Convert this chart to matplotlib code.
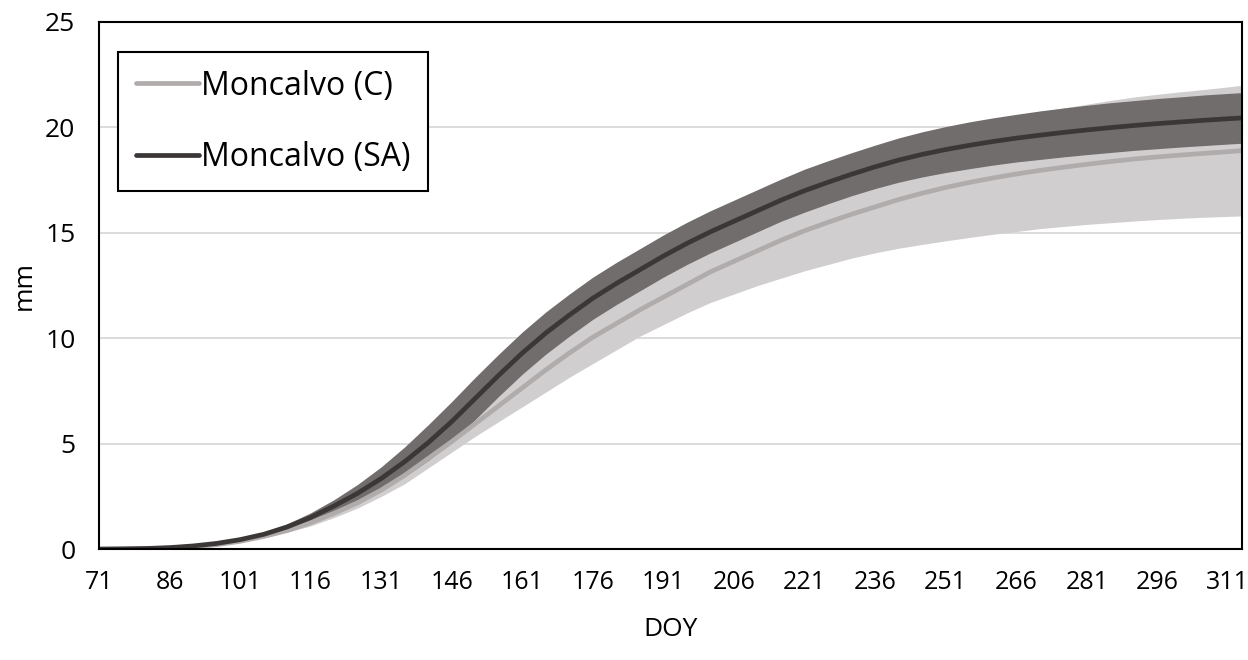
import matplotlib
matplotlib.use("Agg")
import matplotlib.pyplot as plt

# day of year (sampled every 5 days)
doy = [71, 76, 81, 86, 91, 96, 101, 106, 111, 116, 121, 126, 131, 136, 141, 146,
       151, 156, 161, 166, 171, 176, 181, 186, 191, 196, 201, 206, 211, 216, 221,
       226, 231, 236, 241, 246, 251, 256, 261, 266, 271, 276, 281, 286, 291, 296,
       301, 306, 311, 314]

# Moncalvo (C): mean and band limits
c_mean = [0, 0.01, 0.02, 0.05, 0.11, 0.21, 0.37, 0.6, 0.88, 1.25, 1.7, 2.2, 2.8, 3.5,
          4.3, 5.1, 5.95, 6.8, 7.65, 8.5, 9.3, 10.05, 10.7, 11.35, 11.95, 12.55, 13.15,
          13.65, 14.15, 14.65, 15.1, 15.5, 15.88, 16.23, 16.58, 16.88, 17.15, 17.39, 17.6,
          17.79, 17.96, 18.11, 18.25, 18.38, 18.5, 18.6, 18.69, 18.77, 18.85, 18.9]
c_low = [0, 0.01, 0.02, 0.05, 0.11, 0.2, 0.34, 0.55, 0.8, 1.1, 1.5, 1.95, 2.5, 3.1,
         3.85, 4.6, 5.35, 6.05, 6.75, 7.45, 8.15, 8.8, 9.45, 10.1, 10.65, 11.2, 11.7,
         12.1, 12.5, 12.85, 13.2, 13.5, 13.8, 14.05, 14.27, 14.45, 14.62, 14.78, 14.93,
         15.06, 15.2, 15.3, 15.4, 15.48, 15.56, 15.63, 15.69, 15.74, 15.78, 15.8]
c_high = [0, 0.01, 0.02, 0.05, 0.11, 0.22, 0.4, 0.65, 0.97, 1.4, 1.9, 2.45, 3.1, 3.9,
          4.75, 5.6, 6.55, 7.55, 8.55, 9.55, 10.45, 11.3, 11.95, 12.6, 13.25, 13.9, 14.6,
          15.2, 15.8, 16.45, 17.0, 17.5, 17.96, 18.41, 18.89, 19.31, 19.68, 20.0, 20.27,
          20.52, 20.72, 20.92, 21.1, 21.28, 21.44, 21.57, 21.69, 21.8, 21.92, 22.0]

# Moncalvo (SA): mean and band limits
sa_mean = [0, 0.01, 0.03, 0.07, 0.15, 0.27, 0.45, 0.7, 1.05, 1.5, 2.05, 2.65, 3.35, 4.15,
           5.05, 6.05, 7.15, 8.25, 9.3, 10.25, 11.1, 11.9, 12.6, 13.25, 13.9, 14.5, 15.05,
           15.55, 16.05, 16.55, 17.0, 17.4, 17.78, 18.13, 18.45, 18.72, 18.95, 19.15,
           19.33, 19.49, 19.63, 19.76, 19.88, 19.99, 20.09, 20.18, 20.26, 20.34, 20.41, 20.45]
sa_low = [0, 0.0, 0.02, 0.06, 0.13, 0.23, 0.38, 0.6, 0.9, 1.28, 1.75, 2.23, 2.8, 3.45,
          4.2, 5.1, 6.15, 7.25, 8.3, 9.25, 10.1, 10.9, 11.6, 12.25, 12.9, 13.5, 14.05,
          14.55, 15.05, 15.55, 15.98, 16.38, 16.76, 17.1, 17.4, 17.65, 17.86, 18.04,
          18.21, 18.36, 18.48, 18.6, 18.71, 18.81, 18.91, 18.99, 19.07, 19.14, 19.21, 19.25]
sa_high = [0, 0.01, 0.04, 0.08, 0.17, 0.31, 0.52, 0.8, 1.2, 1.72, 2.35, 3.07, 3.9, 4.85,
           5.9, 7.0, 8.15, 9.25, 10.3, 11.25, 12.1, 12.9, 13.6, 14.25, 14.9, 15.5, 16.05,
           16.55, 17.05, 17.55, 18.02, 18.42, 18.8, 19.16, 19.5, 19.79, 20.04, 20.26,
           20.45, 20.62, 20.78, 20.92, 21.05, 21.17, 21.27, 21.37, 21.45, 21.54, 21.61, 21.65]

xticks = list(range(71, 312, 15))

plt.rcParams['font.family'] = ['Open Sans', 'DejaVu Sans']

fig = plt.figure(figsize=(12.48, 6.6), dpi=100)
ax = fig.add_axes([0.0793, 0.168, 0.9159, 0.7987])

# bands (SA band drawn over C band)
ax.fill_between(doy, c_low, c_high, color='#d0cecf', linewidth=0, zorder=2)
ax.fill_between(doy, sa_low, sa_high, color='#716d6c', linewidth=0, zorder=3)

# mean curves
ax.plot(doy, c_mean, color='#b0acab', lw=3.4, solid_capstyle='round', zorder=4,
        label='Moncalvo (C)')
ax.plot(doy, sa_mean, color='#3a3736', lw=3.4, solid_capstyle='round', zorder=5,
        label='Moncalvo (SA)')

ax.set_xlim(71, 314)
ax.set_ylim(0, 25)
ax.set_xticks(xticks)
ax.set_yticks([0, 5, 10, 15, 20, 25])
ax.tick_params(axis='both', length=0)
ax.tick_params(axis='x', pad=15, labelsize=18)
ax.tick_params(axis='y', pad=17, labelsize=19)

ax.yaxis.grid(True, color='#d9d9d9', lw=1.3, zorder=1)
ax.set_axisbelow(True)
for sp in ax.spines.values():
    sp.set_color('black')
    sp.set_linewidth(1.5)
    sp.set_zorder(6)

ax.set_xlabel('DOY', fontsize=19, labelpad=16)
ax.set_ylabel('mm', fontsize=19, labelpad=6)

leg = ax.legend(loc='upper left', bbox_to_anchor=(0.0166, 0.943), borderaxespad=0,
                fontsize=23, handlelength=2.0, handletextpad=0.05, labelspacing=1.2,
                borderpad=0.55, fancybox=False, framealpha=1, edgecolor='black')
leg.get_frame().set_linewidth(1.5)
leg.set_zorder(7)

fig.savefig('out.png', dpi=100)
